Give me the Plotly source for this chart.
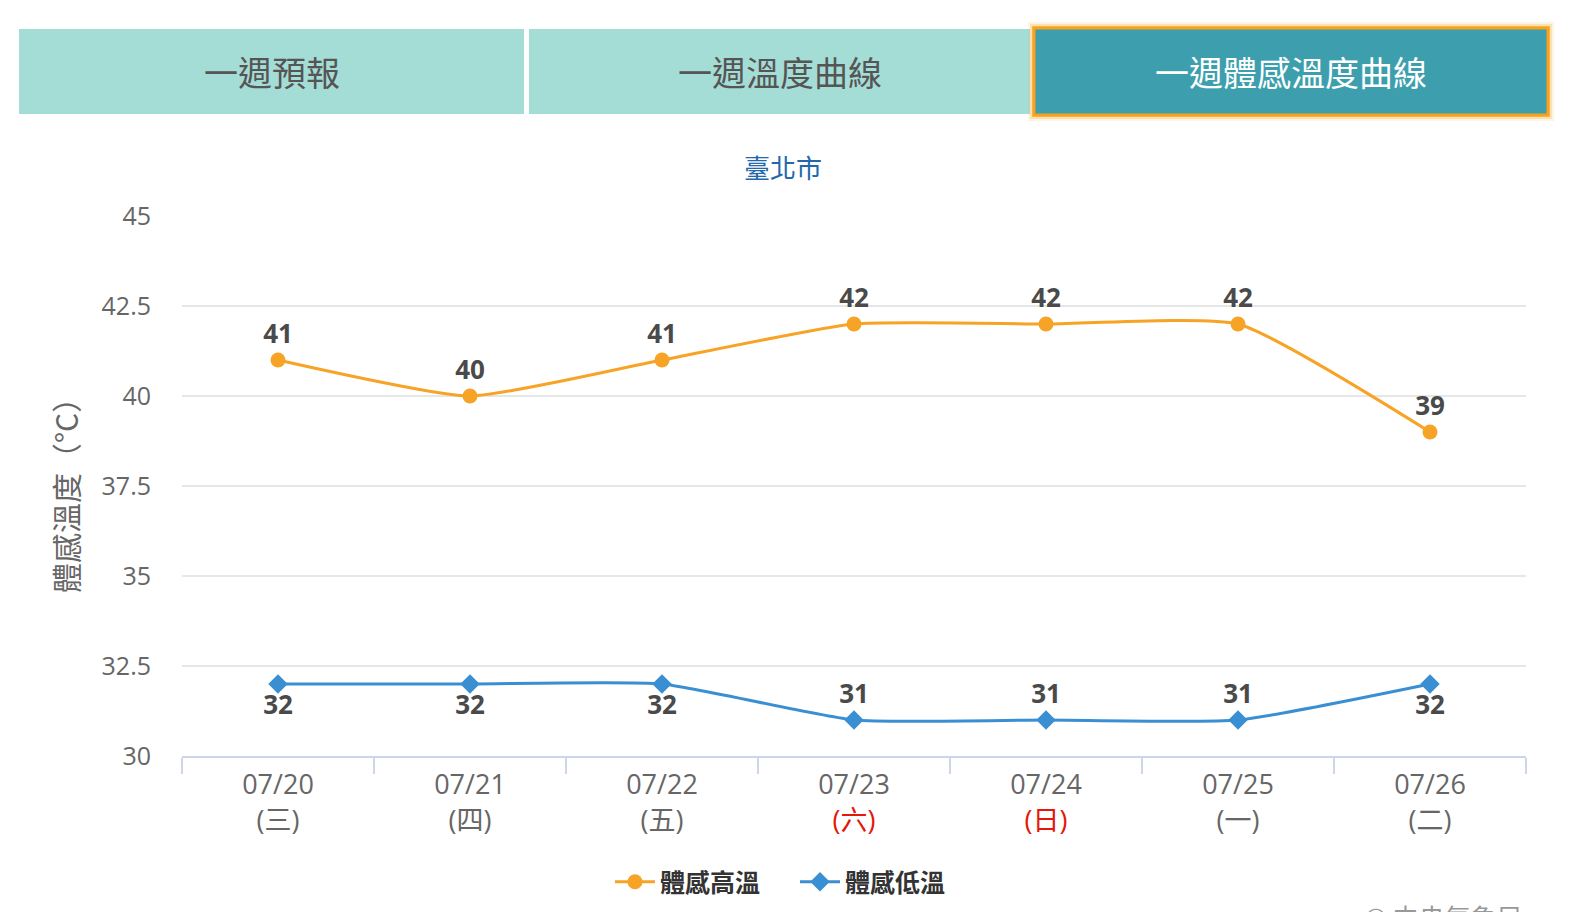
import plotly.graph_objects as go

# 一週體感溫度 - 臺北市
dates = ['07/20', '07/21', '07/22', '07/23', '07/24', '07/25', '07/26']
weekdays = ['三', '四', '五', '六', '日', '一', '二']
holiday = ['六', '日']
feel_high = [41, 40, 41, 42, 42, 42, 39]
feel_low = [32, 32, 32, 31, 31, 31, 32]
tabs = ['一週預報', '一週溫度曲線', '一週體感溫度曲線']
city = '臺北市'

W, H = 1580, 912
L, R, T, B = 182, 1526, 216, 756
FONT = 'Noto Sans CJK TC'
NUM_FONT = 'Open Sans, Noto Sans CJK TC'


def px(x):
    return (x - L) / (R - L)


def py(y):
    return (B - y) / (B - T)


ticktext = []
for d, w in zip(dates, weekdays):
    if w in holiday:
        ticktext.append(d + '<br><span style="color:#e3170a">(' + w + ')</span>')
    else:
        ticktext.append(d + '<br>(' + w + ')')

# low labels: 32 below the point, 31 above (as in the original)
low_pos = ['bottom center' if v == max(feel_low) else 'top center' for v in feel_low]

fig = go.Figure()
fig.add_trace(go.Scatter(
    x=dates, y=feel_high, name='體感高溫', mode='lines+markers+text',
    line=dict(color='#f7a325', width=3, shape='spline', smoothing=0.5),
    marker=dict(symbol='circle', size=15, color='#f7a325'),
    text=[str(v) for v in feel_high], textposition='top center',
    textfont=dict(family=NUM_FONT, size=26, color='#4a4a4a', weight='bold'),
))
fig.add_trace(go.Scatter(
    x=dates, y=feel_low, name='體感低溫', mode='lines+markers+text',
    line=dict(color='#3a8fd2', width=3, shape='spline', smoothing=0.5),
    marker=dict(symbol='diamond', size=15, color='#3a8fd2'),
    text=[str(v) for v in feel_low], textposition=low_pos,
    textfont=dict(family=NUM_FONT, size=26, color='#4a4a4a', weight='bold'),
))

shapes = []
annotations = []
# tab bar
tab_x = [(19, 524), (529, 1030), (1035, 1547)]
for i, (t, (x0, x1)) in enumerate(zip(tabs, tab_x)):
    sel = i == len(tabs) - 1
    if sel:
        for k, op in [(7, 0.12), (5, 0.25), (3, 0.5)]:
            shapes.append(dict(type='rect', xref='paper', yref='paper',
                               x0=px(x0 - k), x1=px(x1 + k), y0=py(114 + k), y1=py(29 - k),
                               line=dict(width=0), fillcolor='rgba(247,166,35,%s)' % op, layer='below'))
        shapes.append(dict(type='rect', xref='paper', yref='paper',
                           x0=px(x0 - 1), x1=px(x1 + 1), y0=py(115), y1=py(28),
                           line=dict(width=3, color='#f7a21b'), fillcolor='#3d9fad', layer='below'))
    else:
        shapes.append(dict(type='rect', xref='paper', yref='paper',
                           x0=px(x0), x1=px(x1), y0=py(114), y1=py(29),
                           line=dict(width=0), fillcolor='#a4ddd6', layer='below'))
    annotations.append(dict(xref='paper', yref='paper', x=px((x0 + x1) / 2), y=py(71.5),
                            text=t, showarrow=False, xanchor='center', yanchor='middle',
                            font=dict(family=FONT, size=34, color='#ffffff' if sel else '#555555')))

annotations.append(dict(xref='paper', yref='paper', x=px(783), y=py(166), text=city,
                        showarrow=False, xanchor='center', yanchor='middle',
                        font=dict(family=FONT, size=26, color='#2367ad')))
annotations.append(dict(xref='paper', yref='paper', x=px(65), y=py(488), text='體感溫度（°C）',
                        showarrow=False, textangle=-90, xanchor='center', yanchor='middle',
                        font=dict(family=FONT, size=30, color='#666666')))
annotations.append(dict(xref='paper', yref='paper', x=px(1524), y=py(896), text='© 中央氣象局',
                        showarrow=False, xanchor='right', yanchor='top',
                        font=dict(family=FONT, size=26, color='#999999')))

fig.update_layout(
    width=W, height=H,
    margin=dict(l=L, r=W - R, t=T, b=H - B, pad=0, autoexpand=False),
    paper_bgcolor='white', plot_bgcolor='white',
    font=dict(family=FONT, color='#666666'),
    shapes=shapes, annotations=annotations,
    showlegend=True,
    legend=dict(orientation='h', x=px(610), y=py(882), xanchor='left', yanchor='middle',
                font=dict(family=FONT, size=25, color='#333333', weight='bold'),
                itemwidth=40, entrywidth=130, bgcolor='rgba(0,0,0,0)'),
    xaxis=dict(type='category', range=[-0.5, 6.5], tickvals=dates, ticktext=ticktext,
               tickson='boundaries', ticks='outside', ticklen=16, tickcolor='#ccd6eb', tickwidth=2,
               showline=True, linecolor='#ccd6eb', linewidth=2, showgrid=False, zeroline=False,
               ticklabelstandoff=4,
               tickfont=dict(family=NUM_FONT, size=27, color='#666666'), fixedrange=True),
    yaxis=dict(range=[30, 45], dtick=2.5, tick0=30, showgrid=True, gridcolor='#e6e6e6', gridwidth=1.5,
               zeroline=False, showline=False, ticks='', ticklabelstandoff=30,
               tickfont=dict(family=NUM_FONT, size=25, color='#666666'), fixedrange=True),
)

fig.write_html('out.html', config={'displayModeBar': False},
               post_script="document.body.style.margin='0px';")
